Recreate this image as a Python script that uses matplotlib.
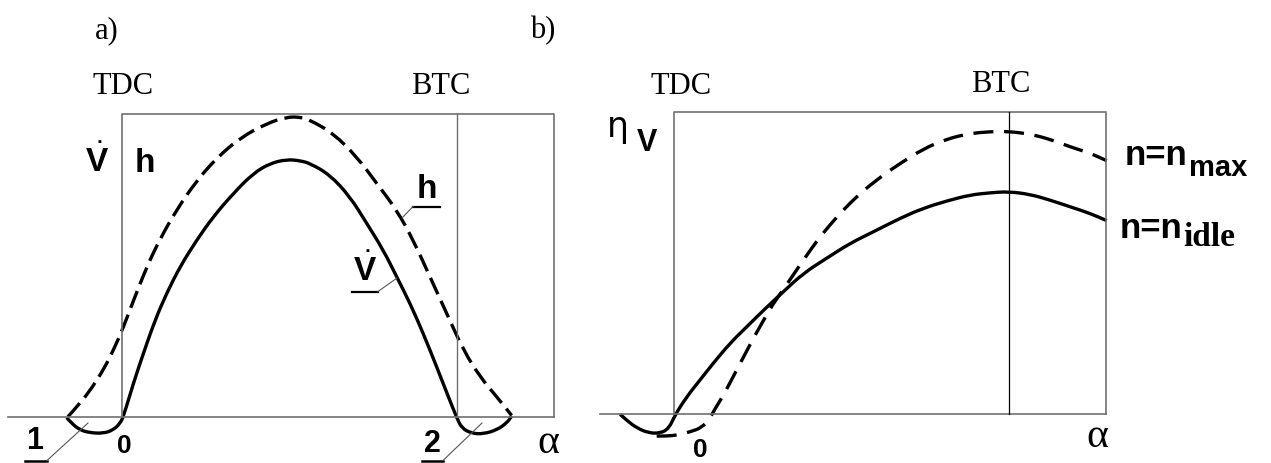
import matplotlib
matplotlib.use("Agg")
import matplotlib.pyplot as plt
from matplotlib.lines import Line2D
from matplotlib.path import Path
from matplotlib.patches import PathPatch

plt.rcParams["mathtext.fontset"] = "custom"
plt.rcParams["mathtext.bf"] = "Liberation Sans:bold"
plt.rcParams["mathtext.rm"] = "Liberation Sans"

# ---------------------------------------------------------------
# data: crank angle (deg, TDC = 0, BTC = 180)
# and value relative to the box height
# ---------------------------------------------------------------
# a) volume flow V-dot (solid) and valve lift h (dashed)
vdot_deg = [-29.9, -27.2, -22.7, -17.3, -10.2, -4.8, -1.2, 0.6, 6.0, 11.4, 17.7,
            23.9, 31.1, 40.1, 49.0, 59.8, 70.5, 79.5, 88.5, 95.7, 101.1, 111.8,
            122.6, 131.6, 140.5, 147.7, 154.9, 162.0, 169.2, 175.5, 179.9, 182.7,
            188.1, 194.2, 201.5, 206.9, 209.6]
vdot_val = [-0.002, -0.021, -0.043, -0.052, -0.054, -0.043, -0.021, 0.0, 0.111,
            0.210, 0.320, 0.408, 0.496, 0.584, 0.661, 0.738, 0.804, 0.837, 0.850,
            0.846, 0.837, 0.799, 0.727, 0.639, 0.551, 0.463, 0.375, 0.276, 0.166,
            0.067, 0.0, -0.037, -0.054, -0.056, -0.043, -0.020, 0.003]

lift_deg = [-29.2, -22.7, -16.3, -9.8, -4.4, 0.3, 6.3, 13.2, 20.3, 29.3, 40.1,
            50.9, 63.4, 77.8, 88.5, 95.7, 101.1, 113.6, 126.2, 137.0, 147.7, 156.6,
            165.6, 174.6, 183.6, 192.5, 201.5, 209.6]
lift_val = [0.001, 0.045, 0.096, 0.159, 0.225, 0.291, 0.388, 0.495, 0.587, 0.684,
            0.780, 0.855, 0.921, 0.969, 0.990, 0.990, 0.980, 0.936, 0.859, 0.771,
            0.683, 0.584, 0.463, 0.342, 0.221, 0.133, 0.067, 0.005]

# b) volumetric efficiency at idle (solid) and at max speed (dashed)
idle_deg = [-29.2, -24.9, -20.1, -14.2, -7.7, -2.9, 0.6, 6.7, 13.8, 21.0, 30.0,
            39.0, 47.9, 58.7, 69.5, 82.1, 94.6, 107.2, 121.6, 134.1, 146.7, 159.3,
            170.0, 179.9, 191.6, 202.3, 213.1, 223.9, 232.9]
idle_val = [0.0, -0.024, -0.045, -0.061, -0.063, -0.047, 0.0, 0.058, 0.113, 0.169,
            0.235, 0.289, 0.343, 0.405, 0.466, 0.516, 0.565, 0.603, 0.648, 0.681,
            0.705, 0.725, 0.732, 0.736, 0.727, 0.708, 0.686, 0.664, 0.640]

nmax_deg = [-9.5, -3.4, 2.0, 8.5, 14.8, 19.2, 21.9, 26.2, 31.6, 37.0, 42.4, 47.8,
            53.2, 58.7, 69.5, 78.5, 89.2, 100.0, 110.8, 121.6, 134.1, 146.7, 159.3,
            170.0, 179.9, 191.6, 202.3, 213.1, 223.9, 232.9]
nmax_val = [-0.072, -0.072, -0.068, -0.058, -0.044, -0.013, 0.018, 0.060, 0.123,
            0.186, 0.249, 0.308, 0.365, 0.412, 0.510, 0.587, 0.664, 0.730, 0.783,
            0.829, 0.877, 0.910, 0.928, 0.934, 0.935, 0.926, 0.909, 0.884, 0.863,
            0.838]

TDC, BTC = 0, 180
BOX_END = 232.5
LEFT_BASE_START = -61.5
RIGHT_BASE_START = -40.0

W, H = 1271, 463
FRAME = "#6f6f6f"
SERIF = "Liberation Serif"
SANS = "Liberation Sans"

fig = plt.figure(figsize=(W / 100, H / 100), dpi=100)


def px(x, y):
    """reference pixel -> figure fraction"""
    return x / W, 1 - y / H


def label(x, y, s, size, family=SANS, weight="bold", ha="center"):
    fig.text(*px(x, y), s, fontsize=size, family=family, weight=weight,
             ha=ha, va="center")


def seg(x0, y0, x1, y1, lw=0.8, color="#555555"):
    (a, b), (c, d) = px(x0, y0), px(x1, y1)
    fig.add_artist(Line2D([a, c], [b, d], lw=lw, color=color))


def curve(ax, xs, ys, dashes=None):
    # quadratic bezier through the read points so the curve is drawn smooth
    verts = [(xs[0], ys[0])]
    codes = [Path.MOVETO]
    for i in range(1, len(xs) - 1):
        verts += [(xs[i], ys[i]), ((xs[i] + xs[i + 1]) / 2, (ys[i] + ys[i + 1]) / 2)]
        codes += [Path.CURVE3, Path.CURVE3]
    verts.append((xs[-1], ys[-1]))
    codes.append(Path.LINETO)
    ls = "-" if dashes is None else (0, dashes)
    ax.add_patch(PathPatch(Path(verts, codes), fill=False, edgecolor="black",
                           lw=2.4, linestyle=ls, capstyle="butt", joinstyle="round"))


def draw_box(ax, base_start, btc_color, btc_lw):
    ax.plot([base_start, BOX_END], [0, 0], color=FRAME, lw=1.2)
    ax.plot([TDC, TDC, BOX_END, BOX_END], [0, 1, 1, 0], color=FRAME, lw=1.2)
    ax.plot([BTC, BTC], [0, 1], color=btc_color, lw=btc_lw)


# ---------------------------------------------------------------
# a)
# ---------------------------------------------------------------
ax1 = fig.add_axes([0, 0, 590 / W, 1])
ax1.set_xlim(-65.76, 251.74)
ax1.set_ylim(-0.1518, 1.3762)
ax1.axis("off")
draw_box(ax1, LEFT_BASE_START, FRAME, 1.0)
curve(ax1, vdot_deg, vdot_val)
curve(ax1, lift_deg, lift_val, dashes=(5.4, 2.2))

# ---------------------------------------------------------------
# b)
# ---------------------------------------------------------------
ax2 = fig.add_axes([590 / W, 0, 681 / W, 1])
ax2.set_xlim(-45.40, 321.37)
ax2.set_ylim(-0.1609, 1.3691)
ax2.axis("off")
draw_box(ax2, RIGHT_BASE_START, "black", 0.9)
curve(ax2, idle_deg, idle_val)
curve(ax2, nmax_deg, nmax_val, dashes=(6.0, 3.2))

# ---------------------------------------------------------------
# labels
# ---------------------------------------------------------------
label(107, 31, "a)", 22, SERIF, "normal")
label(543, 31, "b)", 22, SERIF, "normal")
label(123, 87, "TDC", 22, SERIF, "normal")
label(441, 87, "BTC", 22, SERIF, "normal")
label(681, 87, "TDC", 22, SERIF, "normal")
label(1001, 84, "BTC", 22, SERIF, "normal")

label(97, 162, r"$\dot{\mathbf{V}}$", 24)
label(145, 164, "h", 24)
label(427, 189, "h", 24)
seg(413, 206.5, 440, 206.5, lw=1.6, color="black")
seg(413, 206.5, 402, 218)
label(365, 271, r"$\dot{\mathbf{V}}$", 24)
seg(352, 291.5, 378, 291.5, lw=1.6, color="black")
seg(378, 291.5, 397, 278)

label(35, 441, "1", 22)
seg(25, 460.5, 47, 460.5, lw=1.8, color="black")
seg(47, 460.5, 88, 423)
label(124.5, 446, "0", 19)
label(432, 444, "2", 22)
seg(422, 460.5, 443, 460.5, lw=1.8, color="black")
seg(443, 460.5, 482, 423)
label(548, 443, "α", 30, SERIF, "normal")

label(618, 127, "η", 25, "DejaVu Sans", "normal")
label(647, 143, "V", 22)
label(1156, 155, "n=n", 25)
label(1189, 168, "max", 21, ha="left")
label(1151, 228, "n=n", 25)
label(1183, 237, "idle", 24, SERIF, "bold", ha="left")
label(700, 450, "0", 19)
label(1097, 437, "α", 30, SERIF, "normal")

fig.savefig("out.png", dpi=100)
